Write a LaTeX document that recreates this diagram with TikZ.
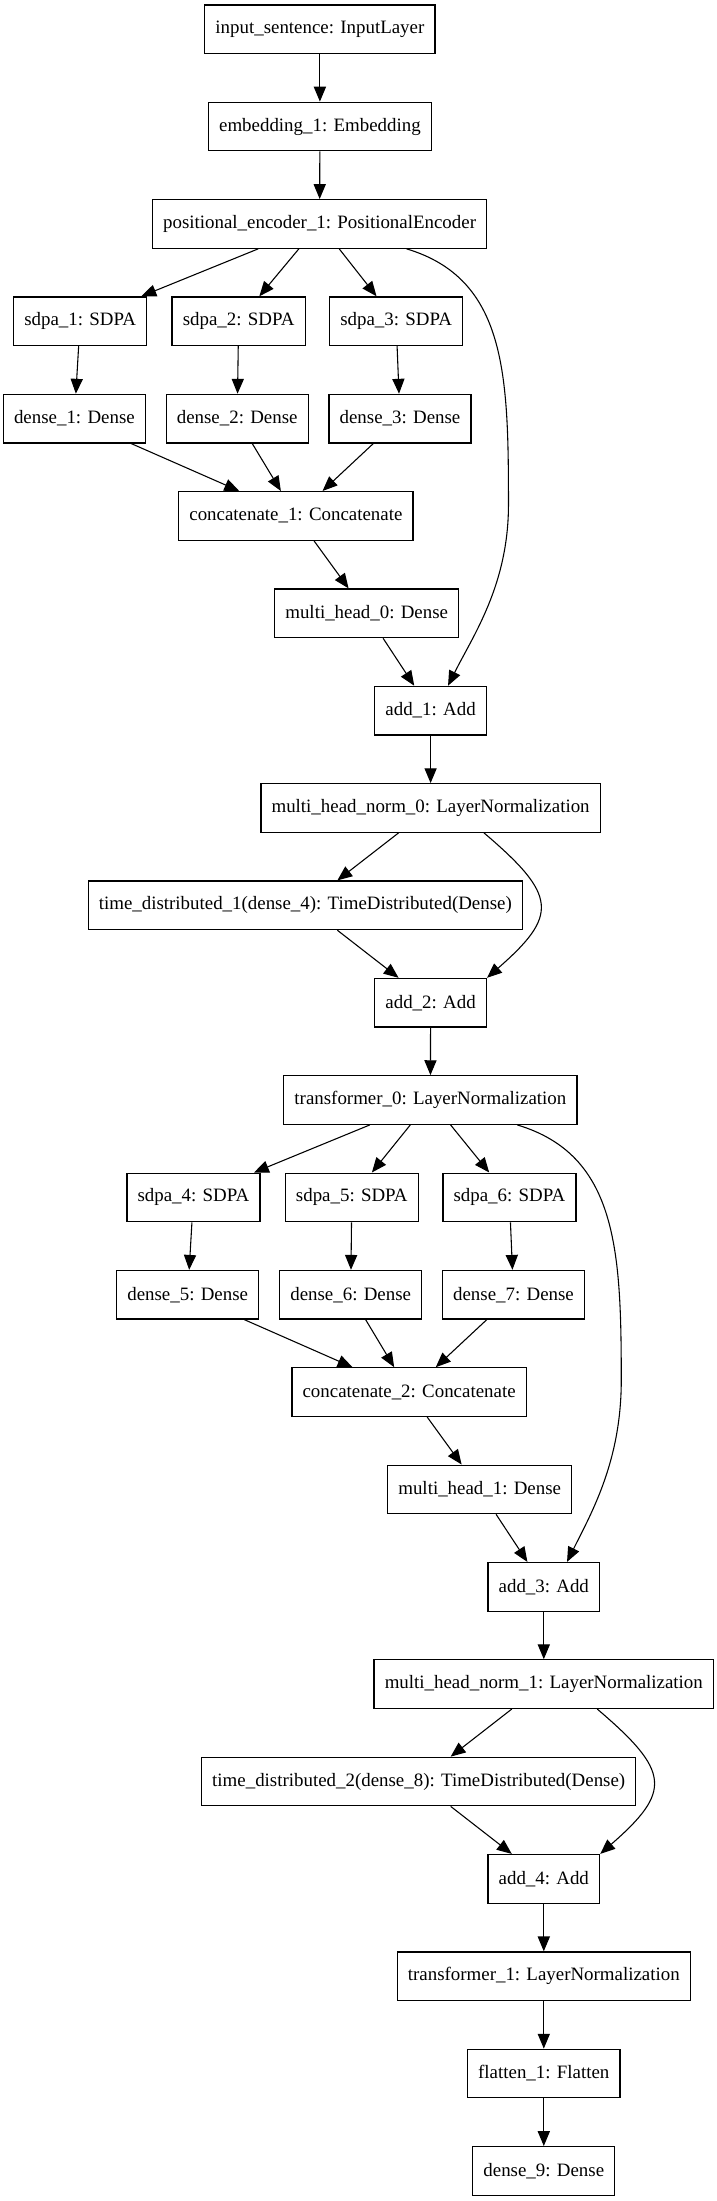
\documentclass[tikz,border=0pt]{standalone}
\usepackage{fontspec}
\setmainfont{Liberation Serif}
\usetikzlibrary{arrows.meta}

\tikzset{layer/.style={draw, rectangle, line width=0.9pt, minimum height=36pt, inner xsep=7.9pt, font=\fontsize{14}{16.8}\selectfont}}

\begin{document}
\begin{tikzpicture}[x=0.7407pt, y=-0.7407pt, line width=0.8pt, >={Triangle[length=11pt,width=9pt]}]
      %\draw [help lines] (0,0) grid (716,2201);
      \useasboundingbox (0,0) rectangle (716,2201);
      \node[layer] (input) at (319.9,29.2) {input\_sentence: InputLayer};
      \node[layer] (embedding) at (319.9,126.5) {embedding\_1: Embedding};
      \node[layer] (posenc) at (319.6,223.9) {positional\_encoder\_1: PositionalEncoder};
      \node[layer] (sdpa1) at (80.1,321.2) {sdpa\_1: SDPA};
      \node[layer] (sdpa2) at (238.6,321.2) {sdpa\_2: SDPA};
      \node[layer] (sdpa3) at (396.1,321.2) {sdpa\_3: SDPA};
      \node[layer] (dense1) at (74.4,418.6) {dense\_1: Dense};
      \node[layer] (dense2) at (237.2,418.6) {dense\_2: Dense};
      \node[layer] (dense3) at (400,418.6) {dense\_3: Dense};
      \node[layer] (concat1) at (295.9,515.9) {concatenate\_1: Concatenate};
      \node[layer] (mhead0) at (366.7,613.3) {multi\_head\_0: Dense};
      \node[layer] (add1) at (430.6,710.6) {add\_1: Add};
      \node[layer] (mhnorm0) at (430.6,808) {multi\_head\_norm\_0: LayerNormalization};
      \node[layer] (tdist1) at (305.3,905.3) {time\_distributed\_1(dense\_4): TimeDistributed(Dense)};
      \node[layer] (add2) at (430.6,1002.7) {add\_2: Add};
      \node[layer] (trans0) at (430.4,1100) {transformer\_0: LayerNormalization};
      \node[layer] (sdpa4) at (193.4,1197.4) {sdpa\_4: SDPA};
      \node[layer] (sdpa5) at (351.8,1197.4) {sdpa\_5: SDPA};
      \node[layer] (sdpa6) at (509.4,1197.4) {sdpa\_6: SDPA};
      \node[layer] (dense5) at (187.7,1294.7) {dense\_5: Dense};
      \node[layer] (dense6) at (350.7,1294.7) {dense\_6: Dense};
      \node[layer] (dense7) at (513.5,1294.7) {dense\_7: Dense};
      \node[layer] (concat2) at (409.1,1392.1) {concatenate\_2: Concatenate};
      \node[layer] (mhead1) at (479.7,1489.4) {multi\_head\_1: Dense};
      \node[layer] (add3) at (543.8,1586.8) {add\_3: Add};
      \node[layer] (mhnorm1) at (543.8,1684.1) {multi\_head\_norm\_1: LayerNormalization};
      \node[layer] (tdist2) at (418.7,1781.5) {time\_distributed\_2(dense\_8): TimeDistributed(Dense)};
      \node[layer] (add4) at (543.8,1878.8) {add\_4: Add};
      \node[layer] (trans1) at (543.8,1976.2) {transformer\_1: LayerNormalization};
      \node[layer] (flatten1) at (543.8,2073.5) {flatten\_1: Flatten};
      \node[layer] (dense9) at (543.8,2170.9) {dense\_9: Dense};

      \draw[->] (input) to (embedding);
      \draw[->] (embedding) to (posenc);
      \draw[->] (posenc) to (sdpa1);
      \draw[->] (posenc) to (sdpa2);
      \draw[->] (posenc) to (sdpa3);
      \draw[->] (sdpa1) to (dense1);
      \draw[->] (sdpa2) to (dense2);
      \draw[->] (sdpa3) to (dense3);
      \draw[->] (dense1) to (concat1);
      \draw[->] (dense2) to (concat1);
      \draw[->] (dense3) to (concat1);
      \draw[->] (concat1) to (mhead0);
      \draw[->] (mhead0) to (add1);
      \draw[->] (posenc.-16) .. controls +(100,30) and +(0,-130) .. ++(102,256) .. controls +(0,80) and +(25,-50) .. (add1.55);
      \draw[->] (add1) to (mhnorm0);
      \draw[->] (mhnorm0) to (tdist1);
      \draw[->] (tdist1) to (add2);
      \draw[->] (mhnorm0.-25) .. controls +(73.4,62.5) and +(71.5,-62.5) .. (add2.north east);
      \draw[->] (add2) to (trans0);
      \draw[->] (trans0) to (sdpa4);
      \draw[->] (trans0) to (sdpa5);
      \draw[->] (trans0) to (sdpa6);
      \draw[->] (sdpa4) to (dense5);
      \draw[->] (sdpa5) to (dense6);
      \draw[->] (sdpa6) to (dense7);
      \draw[->] (dense5) to (concat2);
      \draw[->] (dense6) to (concat2);
      \draw[->] (dense7) to (concat2);
      \draw[->] (concat2) to (mhead1);
      \draw[->] (mhead1) to (add3);
      \draw[->] (trans0.-16) .. controls +(100,30) and +(0,-130) .. ++(104,255.5) .. controls +(0,80) and +(25,-50) .. (add3.47);
      \draw[->] (add3) to (mhnorm1);
      \draw[->] (mhnorm1) to (tdist2);
      \draw[->] (tdist2) to (add4);
      \draw[->] (mhnorm1.-25) .. controls +(73.4,62.5) and +(71.5,-62.5) .. (add4.north east);
      \draw[->] (add4) to (trans1);
      \draw[->] (trans1) to (flatten1);
      \draw[->] (flatten1) to (dense9);
    \end{tikzpicture}
\end{document}
